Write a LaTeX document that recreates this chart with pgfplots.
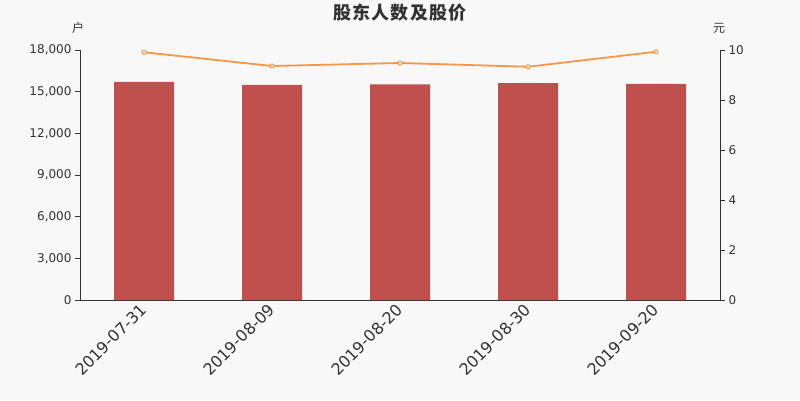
\documentclass[border=0pt]{standalone}
\usepackage{pgfplots}
\pgfplotsset{compat=1.18}
\usepackage{fontspec}
\setmainfont{DejaVu Sans}
\newfontfamily\cjk{Noto Sans CJK SC}
\newfontfamily\cjktitle[LetterSpace=7]{Noto Sans CJK SC}
\definecolor{bgc}{HTML}{F8F8F8}
\definecolor{barc}{HTML}{C0504D}
\definecolor{linec}{HTML}{F79646}
\definecolor{axc}{HTML}{333333}

\begin{document}
\begin{tikzpicture}[x=1bp,y=1bp]
\path[use as bounding box, fill=bgc] (0,0) rectangle (800,400);

\node[text=axc, font=\cjktitle\bfseries\fontsize{18bp}{20bp}\selectfont] at (400,387) {股东人数及股价};
\node[text=axc, font=\cjk\fontsize{12bp}{14bp}\selectfont] at (78,372) {户};
\node[text=axc, font=\cjk\fontsize{12bp}{14bp}\selectfont] at (719,372) {元};

\begin{axis}[
    at={(80bp,100bp)}, anchor=south west,
    scale only axis, width=640bp, height=250bp,
    xmin=-0.5, xmax=4.5, ymin=0, ymax=18000,
    axis y line*=left, axis x line*=bottom,
    axis line style={axc, line width=0.8bp, -},
    xtick={0,1,2,3,4},
    xticklabels={2019-07-31,2019-08-09,2019-08-20,2019-08-30,2019-09-20},
    major x tick style={draw=none},
    extra x ticks={-0.5,0.5,1.5,2.5,3.5,4.5},
    extra x tick labels={},
    extra x tick style={major tick length=5bp, tick style={axc, line width=0.8bp}, tick align=outside},
    x tick label style={rotate=45, anchor=east, xshift=2bp, yshift=-1bp, font=\fontsize{16bp}{18bp}\selectfont, text=axc},
    ytick={0,3000,...,18000},
    y tick label style={font=\fontsize{12bp}{14bp}\selectfont, text=axc},
    tick align=outside, major tick length=5bp,
    ytick style={axc, line width=0.8bp},
    scaled y ticks=false,
    /pgf/number format/1000 sep={,},
    /pgf/number format/assume math mode=true,
    ybar, bar width=60bp,
  ]
  \addplot[fill=barc, draw=none] coordinates {
    (0,15700) (1,15480) (2,15520) (3,15620) (4,15560)
  };
\end{axis}

\begin{axis}[
    at={(80bp,100bp)}, anchor=south west,
    scale only axis, width=640bp, height=250bp,
    xmin=-0.5, xmax=4.5, ymin=0, ymax=10,
    axis y line*=right, axis x line=none,
    axis line style={axc, line width=0.8bp, -},
    ytick={0,2,...,10},
    y tick label style={font=\fontsize{12bp}{14bp}\selectfont, text=axc},
    tick align=outside, major tick length=5bp,
    ytick style={axc, line width=0.8bp},
    /pgf/number format/assume math mode=true,
  ]
  \addplot[linec, line width=1.8bp, mark=*, mark size=2bp,
    mark options={fill=white, draw=linec, line width=1bp}] coordinates {
    (0,9.91) (1,9.36) (2,9.48) (3,9.33) (4,9.93)
  };
\end{axis}
\end{tikzpicture}
\end{document}
